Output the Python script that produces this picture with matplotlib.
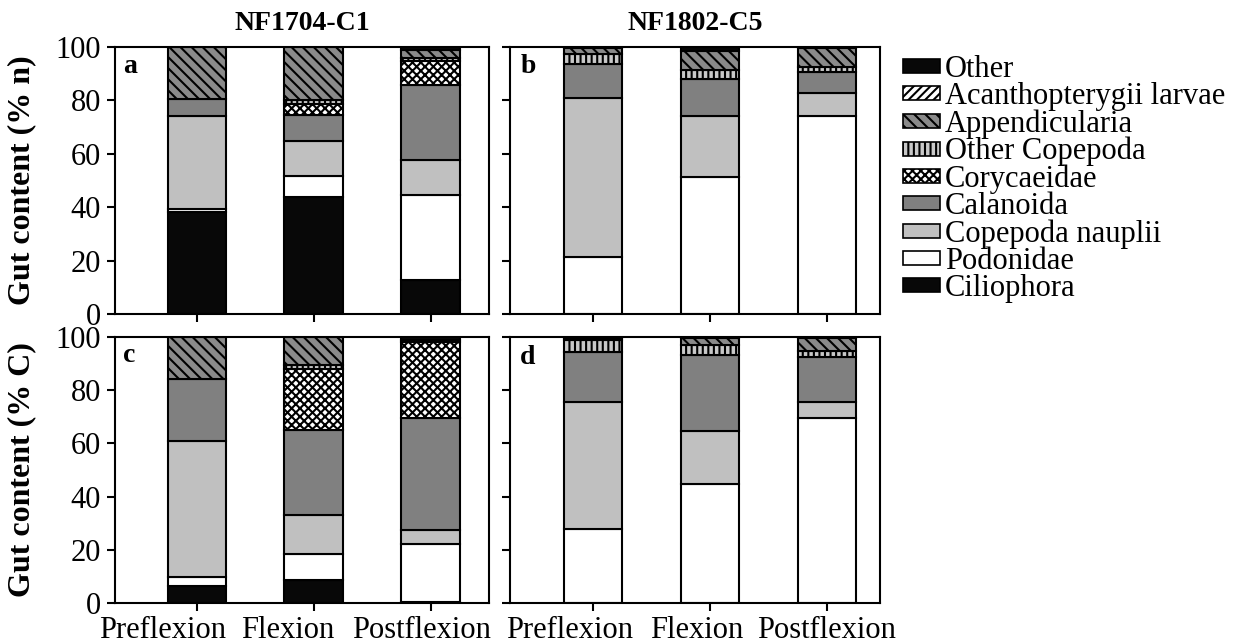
import matplotlib
matplotlib.use("Agg")
import matplotlib.pyplot as plt
from matplotlib.patches import Patch
import matplotlib.transforms as mtransforms
import numpy as np

plt.rcParams['font.family'] = ['Liberation Serif', 'DejaVu Serif']
plt.rcParams['hatch.linewidth'] = 1.5

# ---------------- data ----------------
stages = ["Preflexion", "Flexion", "Postflexion"]
cruises = ["NF1704-C1", "NF1802-C5"]
panel_letters = ["a", "b", "c", "d"]
ylabels = ["Gut content (% n)", "Gut content (% C)"]

# stacking order (bottom -> top)
categories = ["Ciliophora", "Podonidae", "Copepoda nauplii", "Calanoida",
              "Corycaeidae", "Other Copepoda", "Appendicularia",
              "Acanthopterygii larvae", "Other"]

# values per category, each list = [Preflexion, Flexion, Postflexion]
# panel a: NF1704-C1, % n
a_ciliophora = [38.3, 43.8, 12.7]
a_podonidae = [1.2, 7.8, 31.7]
a_nauplii = [34.6, 13.2, 13.2]
a_calanoida = [6.3, 9.6, 28.3]
a_corycaeidae = [0.0, 4.4, 8.9]
a_othercop = [0.0, 1.2, 1.1]
a_appendic = [19.6, 20.0, 3.1]
a_acanth = [0.0, 0.0, 0.0]
a_other = [0.0, 0.0, 1.0]

# panel b: NF1802-C5, % n
b_ciliophora = [0.0, 0.0, 0.0]
b_podonidae = [21.5, 51.3, 74.1]
b_nauplii = [59.3, 22.9, 8.8]
b_calanoida = [13.0, 13.8, 7.8]
b_corycaeidae = [0.0, 0.0, 0.0]
b_othercop = [3.5, 3.5, 1.8]
b_appendic = [2.2, 7.0, 7.0]
b_acanth = [0.0, 0.0, 0.0]
b_other = [0.5, 1.5, 0.5]

# panel c: NF1704-C1, % C
c_ciliophora = [6.3, 8.6, 0.5]
c_podonidae = [3.3, 9.9, 21.8]
c_nauplii = [51.2, 14.7, 5.1]
c_calanoida = [23.5, 31.8, 42.1]
c_corycaeidae = [0.0, 22.8, 28.8]
c_othercop = [0.0, 1.5, 0.7]
c_appendic = [15.7, 10.7, 0.0]
c_acanth = [0.0, 0.0, 0.0]
c_other = [0.0, 0.0, 1.0]

# panel d: NF1802-C5, % C
d_ciliophora = [0.0, 0.0, 0.0]
d_podonidae = [27.8, 44.6, 69.7]
d_nauplii = [47.6, 20.0, 5.7]
d_calanoida = [18.9, 28.8, 17.2]
d_corycaeidae = [0.0, 0.0, 0.0]
d_othercop = [4.5, 3.7, 2.2]
d_appendic = [0.7, 2.4, 4.8]
d_acanth = [0.0, 0.0, 0.0]
d_other = [0.5, 0.5, 0.4]

panel_data = [
    [a_ciliophora, a_podonidae, a_nauplii, a_calanoida, a_corycaeidae, a_othercop, a_appendic, a_acanth, a_other],
    [b_ciliophora, b_podonidae, b_nauplii, b_calanoida, b_corycaeidae, b_othercop, b_appendic, b_acanth, b_other],
    [c_ciliophora, c_podonidae, c_nauplii, c_calanoida, c_corycaeidae, c_othercop, c_appendic, c_acanth, c_other],
    [d_ciliophora, d_podonidae, d_nauplii, d_calanoida, d_corycaeidae, d_othercop, d_appendic, d_acanth, d_other],
]

# ---------------- styles ----------------
styles = {
    "Ciliophora": dict(facecolor="#080808", hatch=None),
    "Podonidae": dict(facecolor="white", hatch=None),
    "Copepoda nauplii": dict(facecolor="#c0c0c0", hatch=None),
    "Calanoida": dict(facecolor="#808080", hatch=None),
    "Corycaeidae": dict(facecolor="white", hatch="xxxx"),
    "Other Copepoda": dict(facecolor="#c8c8c8", hatch="|||"),
    "Appendicularia": dict(facecolor="#8a8a8a", hatch="\\\\\\"),
    "Acanthopterygii larvae": dict(facecolor="white", hatch="////"),
    "Other": dict(facecolor="#080808", hatch=None),
}

W, H = 1245, 643
fig = plt.figure(figsize=(W / 100, H / 100), dpi=100)

# axes boxes in pixels: (left, top, right, bottom)
boxes = [(115, 47, 489, 314), (510, 47, 880, 314),
         (115, 337, 489, 603), (510, 337, 880, 603)]
xlims = [(-0.70, 2.50), (-0.71, 2.455), (-0.70, 2.50), (-0.71, 2.455)]
label_offsets = {2: [-34, -26, -9], 3: [-23, -13, 0]}
letter_offsets = [(8, -26), (11, -26), (8, -25), (10, -27)]

x = np.arange(len(stages))
width = 0.5

for i, (l, t, r, b) in enumerate(boxes):
    ax = fig.add_axes([l / W, 1 - b / H, (r - l) / W, (b - t) / H])
    bottoms = np.zeros(len(stages))
    for cat, vals in zip(categories, panel_data[i]):
        vals = np.asarray(vals, dtype=float)
        mask = vals > 0
        st = styles[cat]
        ax.bar(x[mask], vals[mask], width, bottom=bottoms[mask],
               facecolor=st["facecolor"], edgecolor="black",
               hatch=st["hatch"], linewidth=1.5, zorder=2)
        bottoms += vals
    ax.set_xlim(*xlims[i])
    ax.set_ylim(0, 100)
    ax.set_yticks([0, 20, 40, 60, 80, 100])
    ax.set_xticks(x)
    for sp in ax.spines.values():
        sp.set_linewidth(1.5)
    ax.tick_params(axis="both", direction="out", length=6, width=1.5,
                   labelsize=22, top=False, right=False, pad=3)
    ax.tick_params(axis="y", pad=4)
    if i not in (0, 2):
        ax.set_yticklabels([])
    if i in (2, 3):
        ax.set_xticklabels(stages)
        for lab, dx in zip(ax.get_xticklabels(), label_offsets[i]):
            lab.set_transform(lab.get_transform() +
                              mtransforms.ScaledTranslation(dx / 100, 0, fig.dpi_scale_trans))
    else:
        ax.set_xticklabels([])
        ax.set_title(cruises[i], fontsize=20, fontweight="bold", pad=12)
    ax.annotate(panel_letters[i], xy=(0, 1), xycoords="axes fraction",
                xytext=letter_offsets[i], textcoords="offset pixels",
                ha="left", va="baseline", fontsize=20, fontweight="bold")
    if i in (0, 2):
        fig.text(22 / W, 1 - ((t + b) / 2) / H, ylabels[i // 2], rotation=90,
                 ha="center", va="center", fontsize=23, fontweight="bold")

handles = [Patch(facecolor=styles[c]["facecolor"], edgecolor="black",
                 hatch=styles[c]["hatch"], linewidth=1.2, label=c)
           for c in categories[::-1]]
fig.legend(handles=handles, loc="upper left",
           bbox_to_anchor=(903 / W, 1 - 55 / H), frameon=False, fontsize=22,
           handlelength=1.2, handleheight=0.33, handletextpad=0.17,
           labelspacing=-0.06, borderpad=0, borderaxespad=0)

fig.savefig("out.png", dpi=100)
